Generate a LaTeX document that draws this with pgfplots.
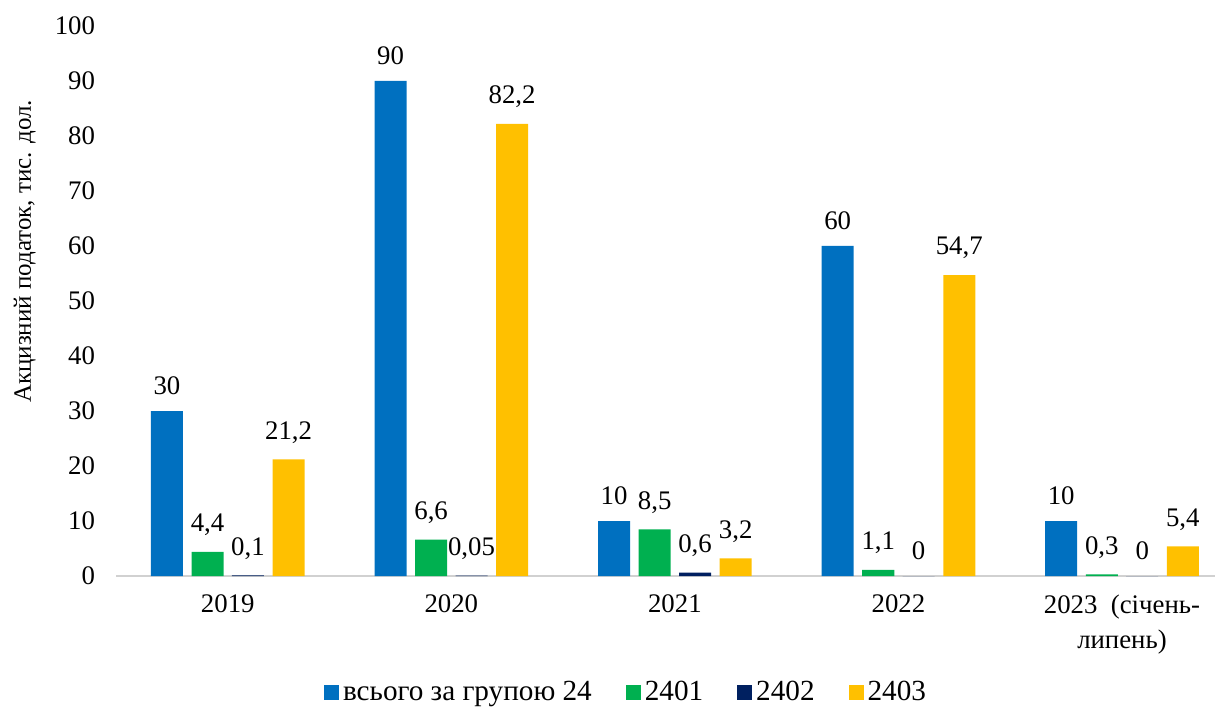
\documentclass[border=0pt]{standalone}
\usepackage{pgfplots}
\pgfplotsset{compat=1.18}
\usepackage{fontspec}
\setmainfont{Liberation Serif}
\definecolor{cBlue}{HTML}{0070C0}
\definecolor{cGreen}{HTML}{00B050}
\definecolor{cNavy}{HTML}{002060}
\definecolor{cYellow}{HTML}{FFC000}
\newcommand{\fs}{\fontsize{13.4bp}{17.5bp}\selectfont}
\newcommand{\fl}{\fontsize{14.6bp}{17bp}\selectfont}
\newcommand{\fy}{\fontsize{12.5bp}{15bp}\selectfont}
\begin{document}
\begin{tikzpicture}[font=\fs]
\begin{axis}[
  at={(0,0)}, anchor=south west,
  scale only axis, width=549.5bp, height=275bp,
  xmin=-0.5, xmax=4.416, ymin=0, ymax=100,
  ytick={0,10,...,100},
  xtick={0,1,2,3,4},
  xticklabels={2019,2020,2021,2022,{2023\ \ (січень-\\липень)}},
  xticklabel style={align=center, yshift=-6bp, font=\fs},
  yticklabel style={xshift=-7bp, font=\fs},
  axis x line=bottom, axis y line=left,
  axis line style={-},
  y axis line style={draw=none},
  x axis line style={draw=black!18, line width=1bp},
  major tick length=0pt,
  ylabel={Акцизний податок, тис. дол.},
  ylabel style={at={(axis description cs:-0.083,0.59)}, anchor=center, font=\fy},
  /pgf/number format/.cd, fixed, use comma, precision=2, 1000 sep={}, assume math mode=true, /pgfplots/.cd,
  ybar, bar width=16bp,
  nodes near coords,
  every node near coord/.append style={font=\fs, yshift=4.5bp},
  clip=false,
  legend style={at={(0.465,-0.212)}, anchor=center, draw=none, fill=none,
    legend columns=4, font=\fl,
    /tikz/every odd column/.append style={column sep=0bp},
    /tikz/every even column/.append style={column sep=15bp}},
  legend image code/.code={\fill[#1] (0bp,-3.8bp) rectangle (7.5bp,3.8bp);},
]
\addplot[fill=cBlue, draw=none, bar shift=-30.4bp] coordinates {(0,30) (1,90) (2,10) (3,60) (4,10)};
\addplot[fill=cGreen, draw=none, bar shift=-10.1bp] coordinates {(0,4.4) (1,6.6) (2,8.5) (3,1.1) (4,0.3)};
\addplot[fill=cNavy, draw=none, bar shift=10.1bp] coordinates {(0,0.1) (1,0.05) (2,0.6) (3,0) (4,0)};
\addplot[fill=cYellow, draw=none, bar shift=30.4bp] coordinates {(0,21.2) (1,82.2) (2,3.2) (3,54.7) (4,5.4)};
\legend{всього за групою 24,2401,2402,2403}
\end{axis}
\pgfresetboundingbox
\path[use as bounding box] (-58bp,-67.5bp) rectangle (554bp,288bp);
\end{tikzpicture}
\end{document}
